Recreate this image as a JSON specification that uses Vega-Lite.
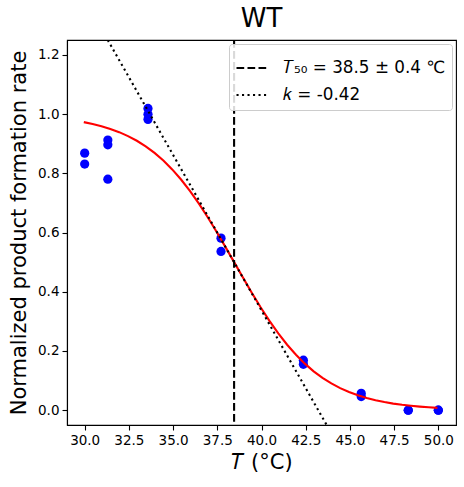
{
  "$schema": "https://vega.github.io/schema/vega-lite/v6.json",
  "width": 389,
  "height": 385,
  "autosize": "none",
  "padding": {"left": 67, "top": 40, "right": 8, "bottom": 62},
  "background": "white",
  "title": {"text": "WT", "fontSize": 26, "font": "DejaVu Sans", "fontWeight": "normal", "color": "black", "offset": 7},
  "config": {
    "view": {"stroke": "black", "strokeWidth": 1.1},
    "axis": {
      "labelFont": "DejaVu Sans", "labelFontSize": 13.5, "labelColor": "black",
      "titleFont": "DejaVu Sans", "titleFontSize": 21, "titleFontWeight": "normal", "titleColor": "black",
      "tickColor": "black", "tickSize": 5, "tickWidth": 1.1, "labelPadding": 3,
      "domainColor": "black", "domainWidth": 1.1, "grid": false
    },
    "legend": {
      "orient": "top-right", "offset": 4, "padding": 6, "zindex": 1,
      "fillColor": "rgba(255,255,255,0.85)", "strokeColor": "#cccccc", "cornerRadius": 3,
      "labelFont": "DejaVu Sans", "labelFontSize": 16.8, "labelColor": "black", "labelLimit": 400,
      "symbolType": "stroke", "symbolSize": 1089, "symbolStrokeWidth": 2.1, "symbolStrokeColor": "black",
      "labelOffset": 12, "rowPadding": -8
    }
  },
  "datasets": {
    "points": [
      {"T": 30.0, "rate": 0.868}, {"T": 30.0, "rate": 0.831},
      {"T": 31.31, "rate": 0.912}, {"T": 31.31, "rate": 0.896}, {"T": 31.31, "rate": 0.78},
      {"T": 33.58, "rate": 1.019}, {"T": 33.58, "rate": 0.999}, {"T": 33.58, "rate": 0.982},
      {"T": 37.71, "rate": 0.581}, {"T": 37.71, "rate": 0.536},
      {"T": 42.37, "rate": 0.169}, {"T": 42.37, "rate": 0.155},
      {"T": 45.64, "rate": 0.057}, {"T": 45.64, "rate": 0.046},
      {"T": 48.3, "rate": 0.0}, {"T": 48.3, "rate": 0.0},
      {"T": 50.0, "rate": 0.0}, {"T": 50.0, "rate": 0.0}
    ],
    "fit": [
      {"T": 29.95, "rate": 0.9726}, {"T": 30.45, "rate": 0.9664}, {"T": 30.95, "rate": 0.9589},
      {"T": 31.45, "rate": 0.9498}, {"T": 31.95, "rate": 0.9388}, {"T": 32.45, "rate": 0.9255},
      {"T": 32.95, "rate": 0.9097}, {"T": 33.45, "rate": 0.8909}, {"T": 33.95, "rate": 0.8688},
      {"T": 34.45, "rate": 0.8429}, {"T": 34.95, "rate": 0.813}, {"T": 35.45, "rate": 0.779},
      {"T": 35.95, "rate": 0.7408}, {"T": 36.45, "rate": 0.6985}, {"T": 36.95, "rate": 0.6525},
      {"T": 37.45, "rate": 0.6035}, {"T": 37.95, "rate": 0.5523}, {"T": 38.45, "rate": 0.5},
      {"T": 38.95, "rate": 0.4477}, {"T": 39.45, "rate": 0.3965}, {"T": 39.95, "rate": 0.3475},
      {"T": 40.45, "rate": 0.3015}, {"T": 40.95, "rate": 0.2592}, {"T": 41.45, "rate": 0.221},
      {"T": 41.95, "rate": 0.187}, {"T": 42.45, "rate": 0.1571}, {"T": 42.95, "rate": 0.1312},
      {"T": 43.45, "rate": 0.1091}, {"T": 43.95, "rate": 0.0903}, {"T": 44.45, "rate": 0.0745},
      {"T": 44.95, "rate": 0.0612}, {"T": 45.45, "rate": 0.0502}, {"T": 45.95, "rate": 0.0411},
      {"T": 46.45, "rate": 0.0336}, {"T": 46.95, "rate": 0.0274}, {"T": 47.45, "rate": 0.0223},
      {"T": 47.95, "rate": 0.0182}, {"T": 48.45, "rate": 0.0148}, {"T": 48.95, "rate": 0.012},
      {"T": 49.45, "rate": 0.0098}, {"T": 49.95, "rate": 0.0079}
    ],
    "t50": [
      {"T": 38.45, "series": "𝑇₅₀ = 38.5 ± 0.4 ℃"}
    ],
    "slope": [
      {"T": 29.0, "rate": 1.492, "series": "𝑘 = -0.42"},
      {"T": 51.0, "rate": -0.818, "series": "𝑘 = -0.42"}
    ]
  },
  "encoding": {
    "x": {
      "field": "T", "type": "quantitative",
      "title": "𝑇 (°C)",
      "scale": {"domain": [29, 51], "nice": false, "zero": false},
      "axis": {"values": [30, 32.5, 35, 37.5, 40, 42.5, 45, 47.5, 50], "format": ".1f", "titlePadding": 5}
    }
  },
  "layer": [
    {
      "data": {"name": "points"},
      "mark": {"type": "circle", "color": "#0000ff", "opacity": 1, "size": 85},
      "encoding": {
        "y": {
          "field": "rate", "type": "quantitative",
          "title": "Normalized product formation rate",
          "scale": {"domain": [-0.05, 1.25], "nice": false, "zero": false},
          "axis": {"values": [0, 0.2, 0.4, 0.6, 0.8, 1.0, 1.2], "format": ".1f", "titlePadding": 8}
        }
      }
    },
    {
      "data": {"name": "fit"},
      "mark": {"type": "line", "color": "red", "strokeWidth": 2.1},
      "encoding": {
        "y": {"field": "rate", "type": "quantitative"}
      }
    },
    {
      "data": {"name": "t50"},
      "mark": {"type": "rule", "color": "black", "strokeWidth": 2.1},
      "encoding": {
        "strokeDash": {
          "field": "series", "type": "nominal",
          "scale": {"domain": ["𝑇₅₀ = 38.5 ± 0.4 ℃", "𝑘 = -0.42"], "range": [[7.7, 3.3], [2.1, 3.4]]},
          "legend": {"title": null}
        }
      }
    },
    {
      "data": {"name": "slope"},
      "mark": {"type": "line", "color": "black", "strokeWidth": 2.1, "clip": true},
      "encoding": {
        "y": {"field": "rate", "type": "quantitative"},
        "strokeDash": {"field": "series", "type": "nominal"}
      }
    }
  ]
}
